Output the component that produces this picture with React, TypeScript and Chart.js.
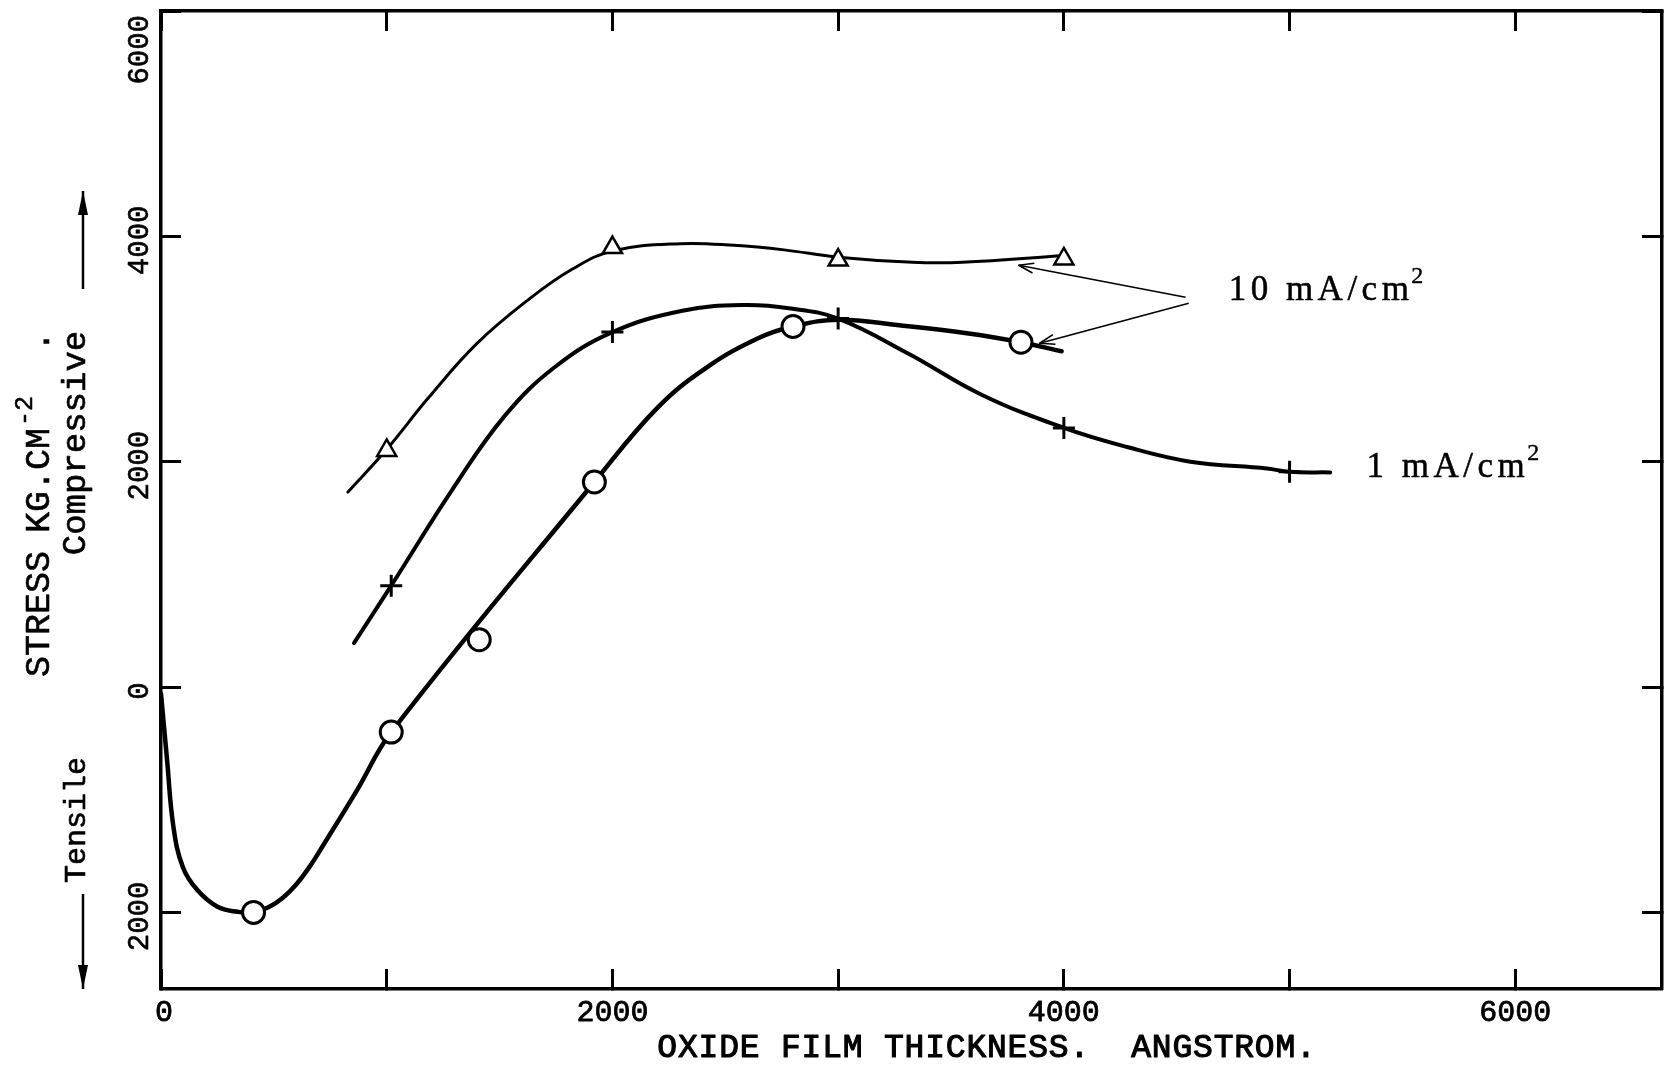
import React, { useEffect, useRef } from 'react';
import { Chart, registerables } from 'chart.js';

Chart.register(...registerables);

// ---------- axes ----------
const X_MIN = 0;
const X_MAX = 6650;
const Y_MIN = -2680;
const Y_MAX = 6000;
const X_TICKS = [0, 1000, 2000, 3000, 4000, 5000, 6000];
const X_TICK_LABELS = ['0', '', '2000', '', '4000', '', '6000'];
const Y_TICKS = [-2000, 0, 2000, 4000, 6000];
const Y_TICK_LABELS = ['2000', '0', '2000', '4000', '6000'];

// ---------- measured points (open circles) ----------
const CIRCLE_X = [410, 1020, 1410, 1920, 2800, 3810];
const CIRCLE_Y = [-2000, -400, 420, 1820, 3200, 3060];
// hand-drawn curve through the circles
const CIRCLE_CURVE_X = [0, 27, 55, 97, 160, 250, 340, 410, 480, 540, 600, 660, 720, 870, 1020, 1920, 2200, 2420, 2650, 2800, 3000, 3270, 3570, 3810, 3990];
const CIRCLE_CURVE_Y = [-60, -650, -1240, -1600, -1800, -1950, -1995, -2000, -1950, -1870, -1750, -1590, -1400, -910, -400, 1820, 2480, 2840, 3100, 3200, 3260, 3210, 3140, 3060, 2980];

// ---------- measured points (plus signs) ----------
const PLUS_X = [1020, 2000, 3000, 4000, 5000];
const PLUS_Y = [900, 3150, 3270, 2300, 1910];
const PLUS_CURVE_X = [855, 1020, 1290, 1520, 1745, 2000, 2310, 2580, 2790, 3000, 3310, 3640, 4000, 4280, 4560, 4900, 5000, 5180];
const PLUS_CURVE_Y = [390, 900, 1750, 2400, 2840, 3150, 3340, 3390, 3360, 3270, 2960, 2590, 2300, 2130, 2000, 1940, 1910, 1905];

// ---------- measured points (triangles) ----------
const TRI_X = [1000, 2000, 3000, 4000];
const TRI_Y = [2100, 3900, 3790, 3800];
const TRI_CURVE_X = [828, 1000, 1182, 1400, 1635, 1823, 2000, 2300, 2540, 2760, 3000, 3330, 3550, 4000];
const TRI_CURVE_Y = [1730, 2110, 2560, 3050, 3450, 3710, 3870, 3935, 3920, 3880, 3815, 3770, 3770, 3830];

// ---------- annotation labels (data coordinates) ----------
const LABEL_10 = { text: '10 mA/cm', sup: '2', x: 4730, y: 3432 };
const LABEL_1 = { text: '1 mA/cm', sup: '2', x: 5341, y: 1862 };
const ARROWS_10 = [
  { x1: 4539, y1: 3459, x2: 3800, y2: 3743 },
  { x1: 4553, y1: 3406, x2: 3893, y2: 3051 },
];

const zip = (xs: number[], ys: number[]) => xs.map((x, i) => ({ x, y: ys[i] }));

function drawArrow(ctx: CanvasRenderingContext2D, x1: number, y1: number, x2: number, y2: number, len: number, half: number, filled: boolean) {
  ctx.beginPath();
  ctx.moveTo(x1, y1);
  ctx.lineTo(x2, y2);
  ctx.stroke();
  const a = Math.atan2(y2 - y1, x2 - x1);
  const bx = x2 - len * Math.cos(a);
  const by = y2 - len * Math.sin(a);
  const px = -Math.sin(a) * half;
  const py = Math.cos(a) * half;
  ctx.beginPath();
  ctx.moveTo(bx + px, by + py);
  ctx.lineTo(x2, y2);
  ctx.lineTo(bx - px, by - py);
  if (filled) {
    ctx.closePath();
    ctx.fill();
  } else {
    ctx.stroke();
  }
}

// typewriter-like text: fill plus a light stroke to thicken the strokes
function inkText(ctx: CanvasRenderingContext2D, s: string, x: number, y: number, weight = 0.8) {
  ctx.fillText(s, x, y);
  ctx.lineWidth = weight;
  ctx.strokeText(s, x, y);
}

const textPlugin = {
  id: 'paperText',
  afterDraw(chart: any) {
    const { ctx, chartArea } = chart;
    const xs = chart.scales.x;
    const ys = chart.scales.y;
    ctx.save();
    ctx.fillStyle = '#000';
    ctx.strokeStyle = '#000';
    ctx.lineJoin = 'round';

    // x tick labels
    ctx.font = '30px "Liberation Mono"';
    ctx.textAlign = 'center';
    ctx.textBaseline = 'alphabetic';
    xs.ticks.forEach((t: any) => {
      const idx = X_TICKS.indexOf(t.value);
      const label = idx >= 0 ? X_TICK_LABELS[idx] : '';
      if (label) inkText(ctx, label, xs.getPixelForValue(t.value) + (t.value === 0 ? 3 : 0), chartArea.bottom + 32);
    });

    // y tick labels (rotated, read bottom to top)
    ctx.font = '29px "Liberation Mono"';
    ys.ticks.forEach((t: any) => {
      const idx = Y_TICKS.indexOf(t.value);
      const label = idx >= 0 ? Y_TICK_LABELS[idx] : '';
      if (!label) return;
      const w = ctx.measureText(label).width;
      let cy = ys.getPixelForValue(t.value) + 4;
      cy = Math.max(cy, chartArea.top + 4 + w / 2);
      ctx.save();
      ctx.translate(chartArea.left - 13, cy);
      ctx.rotate(-Math.PI / 2);
      ctx.textAlign = 'center';
      inkText(ctx, label, 0, 0, 0.6);
      ctx.restore();
    });

    // x axis title
    ctx.font = '33px "Liberation Mono"';
    (ctx as any).letterSpacing = '0.8px';
    ctx.textAlign = 'center';
    inkText(ctx, 'OXIDE FILM THICKNESS.  ANGSTROM.', 987, chartArea.bottom + 68, 1.1);
    (ctx as any).letterSpacing = '0px';

    // y axis title (rotated)
    ctx.save();
    ctx.translate(49, 0);
    ctx.rotate(-Math.PI / 2);
    ctx.textAlign = 'left';
    ctx.font = '35px "Liberation Mono"';
    inkText(ctx, 'STRESS', -677, 0, 0.6);
    inkText(ctx, 'KG.CM', -533, 0, 0.6);
    const kgw = ctx.measureText('KG.CM').width;
    ctx.font = '25px "Liberation Mono"';
    inkText(ctx, '-2', -533 + kgw + 2, -17, 0.5);
    ctx.font = '35px "Liberation Mono"';
    inkText(ctx, '.', -352, 0, 0.6);
    ctx.restore();

    // Compressive / Tensile
    ctx.save();
    ctx.translate(85, 0);
    ctx.rotate(-Math.PI / 2);
    ctx.textAlign = 'center';
    ctx.font = '34px "Liberation Mono"';
    inkText(ctx, 'Compressive', -443, 0, 0.6);
    ctx.font = '30px "Liberation Mono"';
    inkText(ctx, 'Tensile', -820, 0, 0.6);
    ctx.restore();

    // direction arrows
    ctx.lineWidth = 2.5;
    drawArrow(ctx, 83, 289, 83, 191, 24, 5, true);
    drawArrow(ctx, 83, 894, 83, 989, 24, 5, true);

    // curve labels
    (ctx as any).letterSpacing = '4.5px';
    ctx.textAlign = 'left';
    [LABEL_10, LABEL_1].forEach((l) => {
      const px = xs.getPixelForValue(l.x);
      const py = ys.getPixelForValue(l.y);
      ctx.font = '35px "Liberation Serif"';
      inkText(ctx, l.text, px, py, 0.5);
      const w = ctx.measureText(l.text).width;
      ctx.font = '24px "Liberation Serif"';
      inkText(ctx, l.sup, px + w - 2, py - 17, 0.4);
    });
    (ctx as any).letterSpacing = '0px';

    // pointer arrows
    ctx.lineWidth = 1.6;
    ARROWS_10.forEach((a) => {
      drawArrow(ctx, xs.getPixelForValue(a.x1), ys.getPixelForValue(a.y1), xs.getPixelForValue(a.x2), ys.getPixelForValue(a.y2), 15, 5, false);
    });

    ctx.restore();
  },
};

const axisGrid = {
  drawOnChartArea: false,
  drawTicks: true,
  tickLength: -20,
  tickWidth: 3,
  tickColor: '#000',
};
const axisBorder = { display: true, width: 3.5, color: '#000' };

export default function App() {
  const ref = useRef<HTMLCanvasElement>(null);
  useEffect(() => {
    document.body.style.margin = '0';
    const canvas = ref.current!;
    const markerBase = {
      showLine: false,
      pointBorderColor: '#000',
      pointBackgroundColor: '#fff',
      borderColor: '#000',
      backgroundColor: '#fff',
      order: 0,
    };
    const curveBase = {
      borderColor: '#000',
      pointRadius: 0,
      fill: false,
      tension: 0.4,
      borderCapStyle: 'round',
      borderJoinStyle: 'round',
      order: 1,
    };
    const chart = new Chart(canvas, {
      type: 'line',
      data: {
        datasets: [
          { ...markerBase, label: 'circles', data: zip(CIRCLE_X, CIRCLE_Y), pointStyle: 'circle', pointRadius: 11, pointBorderWidth: 3 },
          { ...markerBase, label: 'plus', data: zip(PLUS_X, PLUS_Y), pointStyle: 'cross', pointRadius: 11, pointBorderWidth: 3 },
          { ...markerBase, label: 'triangles', data: zip(TRI_X, TRI_Y), pointStyle: 'triangle', pointRadius: 11, pointBorderWidth: 2.5 },
          { ...curveBase, label: 'circle curve', data: zip(CIRCLE_CURVE_X, CIRCLE_CURVE_Y), borderWidth: 4.5 },
          { ...curveBase, label: 'plus curve', data: zip(PLUS_CURVE_X, PLUS_CURVE_Y), borderWidth: 4 },
          { ...curveBase, label: 'triangle curve', data: zip(TRI_CURVE_X, TRI_CURVE_Y), borderWidth: 3 },
        ] as any,
      },
      options: {
        responsive: false,
        animation: false,
        devicePixelRatio: 1,
        events: [],
        layout: { autoPadding: false, padding: { top: 11, right: 2, left: 0, bottom: 0 } },
        plugins: { legend: { display: false }, tooltip: { enabled: false } },
        scales: {
          x: {
            type: 'linear',
            position: 'bottom',
            min: X_MIN,
            max: X_MAX,
            afterBuildTicks: (s: any) => { s.ticks = X_TICKS.map((v) => ({ value: v })); },
            afterFit: (s: any) => { s.height = 82; },
            ticks: { display: false },
            grid: axisGrid,
            border: axisBorder,
          },
          x2: {
            type: 'linear',
            axis: 'x',
            position: 'top',
            min: X_MIN,
            max: X_MAX,
            afterBuildTicks: (s: any) => { s.ticks = X_TICKS.map((v) => ({ value: v })); },
            afterFit: (s: any) => { s.height = 0; },
            ticks: { display: false },
            grid: axisGrid,
            border: axisBorder,
          },
          y: {
            type: 'linear',
            position: 'left',
            min: Y_MIN,
            max: Y_MAX,
            afterBuildTicks: (s: any) => { s.ticks = Y_TICKS.map((v) => ({ value: v })); },
            afterFit: (s: any) => { s.width = 161; },
            ticks: { display: false },
            grid: axisGrid,
            border: axisBorder,
          },
          y2: {
            type: 'linear',
            axis: 'y',
            position: 'right',
            min: Y_MIN,
            max: Y_MAX,
            afterBuildTicks: (s: any) => { s.ticks = Y_TICKS.map((v) => ({ value: v })); },
            afterFit: (s: any) => { s.width = 0; },
            ticks: { display: false },
            grid: axisGrid,
            border: axisBorder,
          },
        },
      } as any,
      plugins: [textPlugin],
    });
    return () => chart.destroy();
  }, []);
  return <canvas ref={ref} width={1664} height={1071} style={{ display: 'block' }} />;
}
